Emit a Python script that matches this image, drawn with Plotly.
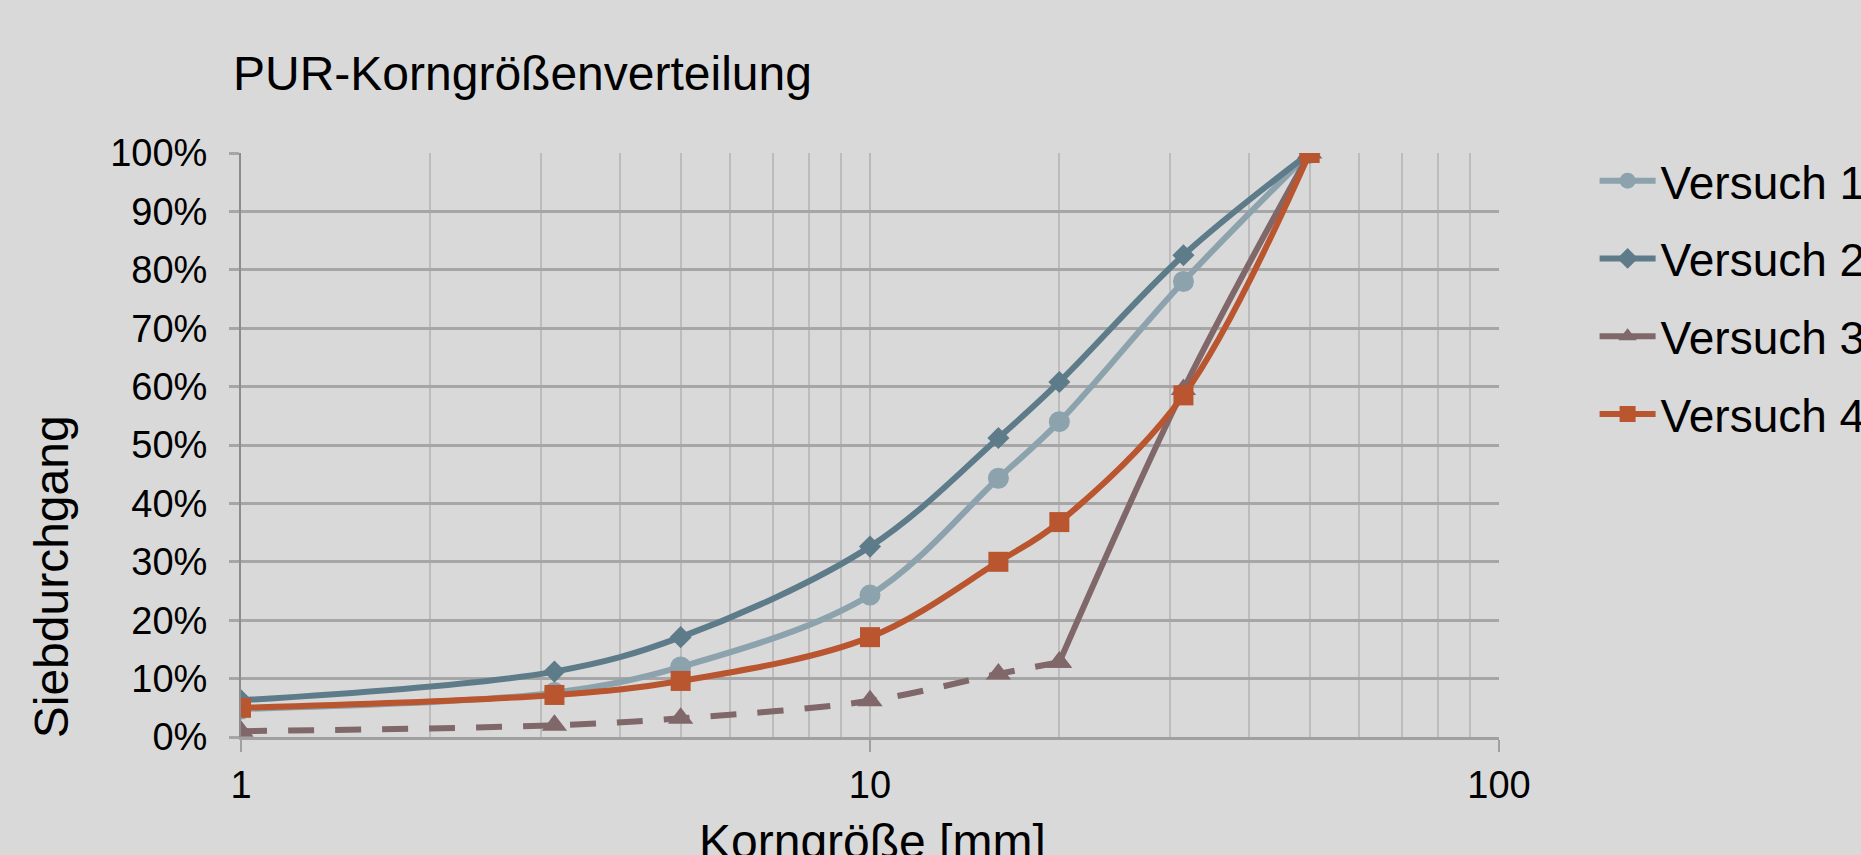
import plotly.graph_objects as go

# Sieve sizes [mm] and cumulative passing [%] per test run
sizes = [1, 3.15, 5, 10, 16, 20, 31.5, 50]
versuch_1 = [4.8, 7.6, 12.0, 24.3, 44.3, 54.0, 78.0, 100]
versuch_2 = [6.3, 11.2, 17.1, 32.6, 51.2, 60.8, 82.5, 100]
versuch_3 = [1.0, 2.0, 3.2, 6.2, 10.8, 12.8, 59.5, 100]
versuch_4 = [5.0, 7.2, 9.6, 17.1, 30.0, 36.8, 58.5, 100]

names = ["Versuch 1", "Versuch 2", "Versuch 3", "Versuch 4"]
colors = ["#8ca2ad", "#5e7b8a", "#806769", "#b9552f"]
symbols = ["circle", "diamond", "triangle-up", "square"]
marker_sizes = [21, 17, 22, 20]

# Versuch 3 is drawn dashed up to 20 mm and solid above
dash_end = sizes.index(20)

FONT = "Arial, Liberation Sans, sans-serif"
LW = 6

fig = go.Figure()

series = [versuch_1, versuch_2, versuch_3, versuch_4]
for i, (name, vals) in enumerate(zip(names, series)):
    common = dict(
        mode="lines+markers",
        line=dict(color=colors[i], width=LW, shape="spline", smoothing=1),
        marker=dict(symbol=symbols[i], size=marker_sizes[i], color=colors[i],
                    line=dict(width=0)),
        legendgroup=name,
    )
    if name == "Versuch 3":
        fig.add_trace(go.Scatter(
            x=sizes[:dash_end + 1], y=vals[:dash_end + 1], name=name,
            showlegend=False,
            **{**common, "line": dict(color=colors[i], width=LW, shape="spline",
                                      smoothing=1, dash="26px,21px")},
        ))
        fig.add_trace(go.Scatter(
            x=sizes[dash_end:], y=vals[dash_end:], name=name, **common,
        ))
    else:
        fig.add_trace(go.Scatter(x=sizes, y=vals, name=name, **common))

fig.update_layout(
    width=1861,
    height=855,
    margin=dict(l=241, r=362, t=153, b=118, autoexpand=False),
    paper_bgcolor="#d9d9d9",
    plot_bgcolor="#d9d9d9",
    font=dict(family=FONT, color="#000000"),
    showlegend=True,
    legend=dict(
        x=1.076, xanchor="left", y=1.015, yanchor="top",
        font=dict(family=FONT, size=46, color="#000000"),
        bgcolor="rgba(0,0,0,0)",
        itemwidth=56,
        tracegroupgap=15,
        itemsizing="trace",
    ),
    xaxis=dict(
        type="log",
        range=[0, 2],
        tickvals=[1, 10, 100],
        ticktext=["1", "10", "100"],
        tickfont=dict(family=FONT, size=38, color="#000000"),
        ticks="outside", ticklen=12, tickwidth=2, tickcolor="#a0a0a0",
        showgrid=True, gridcolor="#b8b8b8", gridwidth=2,
        minor=dict(dtick="D1", showgrid=True, gridcolor="#bcbcbc", gridwidth=2, ticks=""),
        showline=True, linecolor="#a0a0a0", linewidth=3,
        zeroline=False,
    ),
    yaxis=dict(
        range=[0, 100],
        dtick=10,
        ticksuffix="%",
        tickfont=dict(family=FONT, size=38, color="#000000"),
        ticks="outside", ticklen=10, tickwidth=3, tickcolor="#a6a6a6",
        ticklabelstandoff=14,
        showgrid=True, gridcolor="#a6a6a6", gridwidth=3,
        showline=True, linecolor="#8c8c8c", linewidth=2,
        zeroline=False,
    ),
    annotations=[
        dict(text="PUR-Korngrößenverteilung", xref="paper", yref="paper",
             x=-0.008, y=1.088, xanchor="left", yanchor="bottom",
             showarrow=False, font=dict(family=FONT, size=48, color="#000000")),
        dict(text="Siebdurchgang", xref="paper", yref="paper",
             x=-0.15, y=0.274, xanchor="center", yanchor="middle", textangle=-90,
             showarrow=False, font=dict(family=FONT, size=48, color="#000000")),
        dict(text="Korngröße [mm]", xref="paper", yref="paper",
             x=0.5016, y=-0.13, xanchor="center", yanchor="top",
             showarrow=False, font=dict(family=FONT, size=48, color="#000000")),
    ],
)

fig.write_html("out.html")
